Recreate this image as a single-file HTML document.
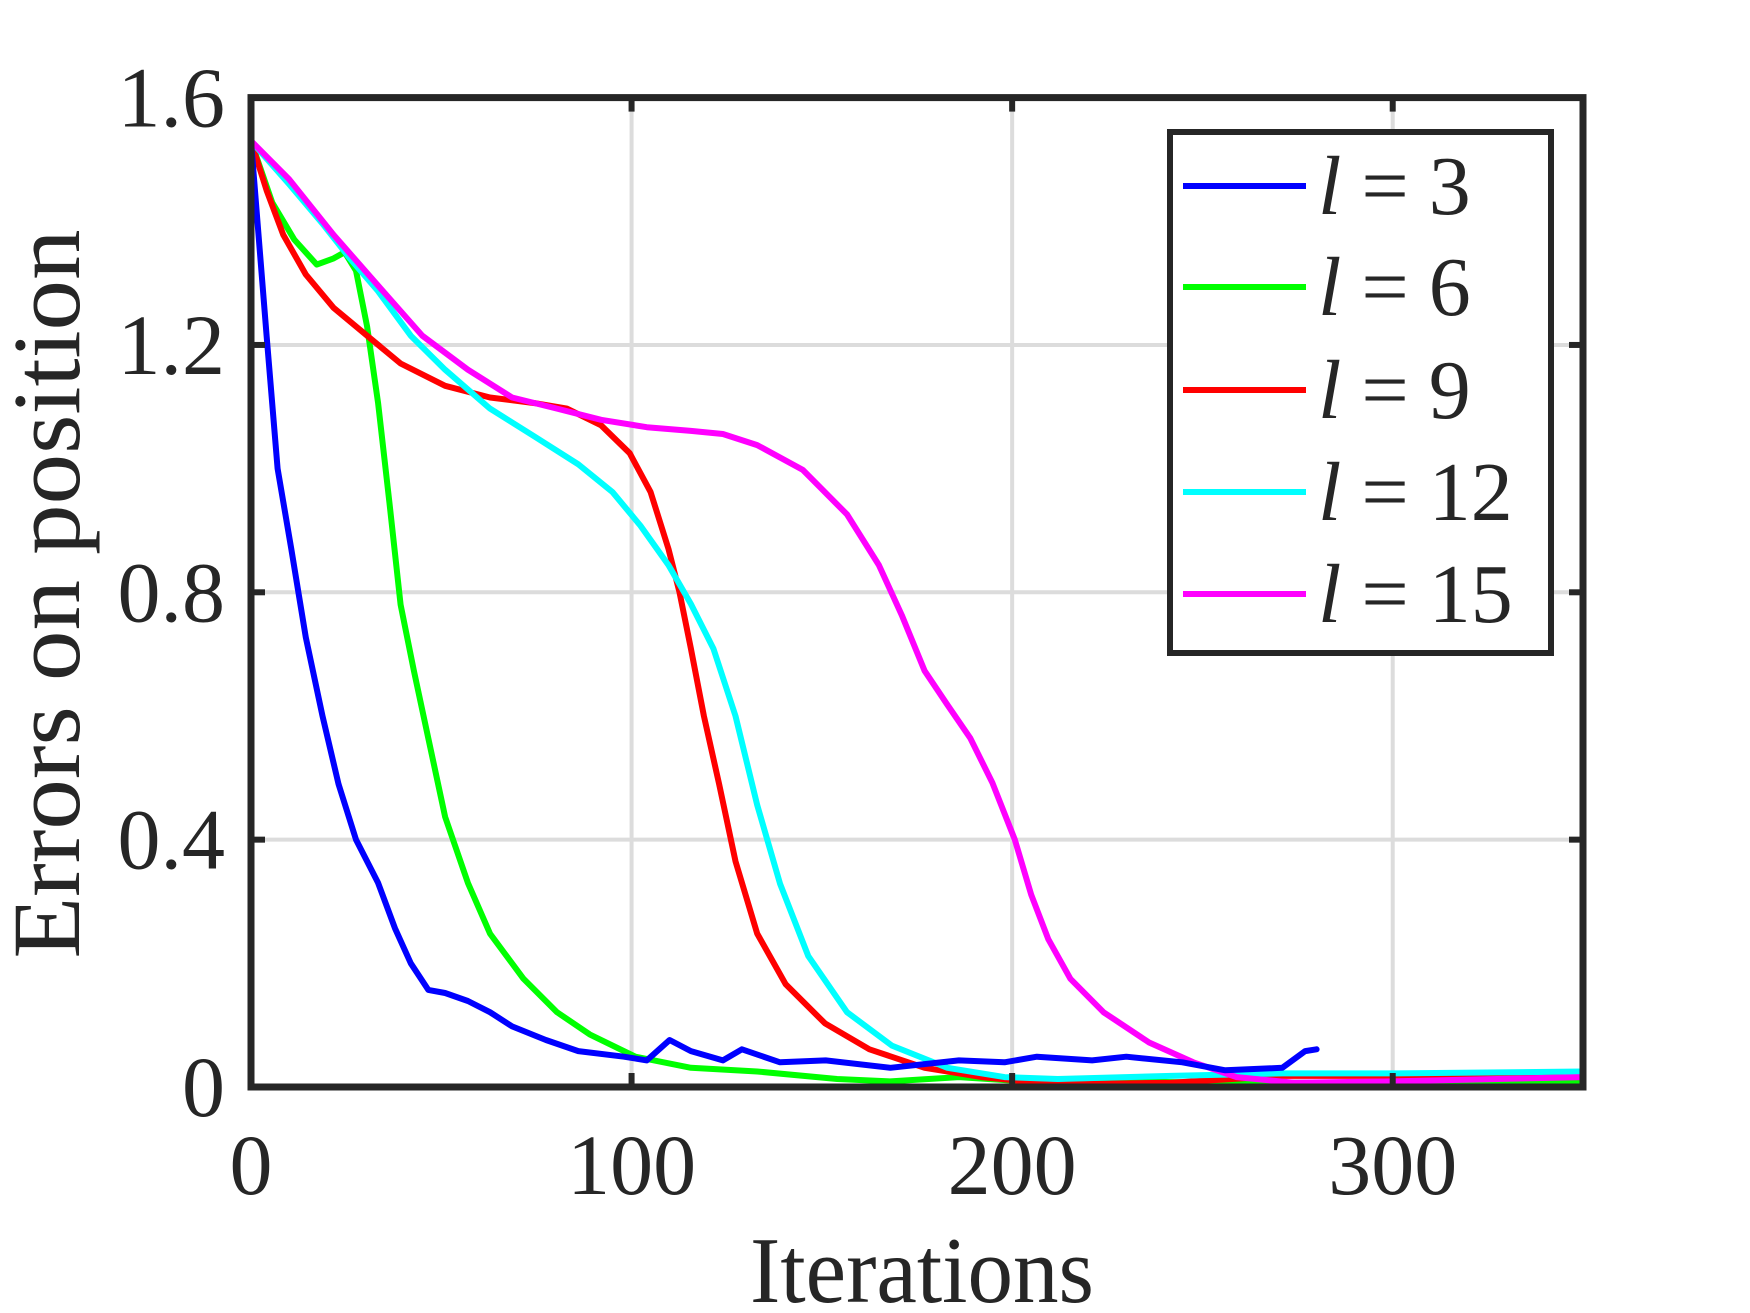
<!DOCTYPE html>
<html><head><meta charset="utf-8"><style>
html,body{margin:0;padding:0;background:#fff;}
svg{display:block;}
text{font-family:"Liberation Serif",serif;fill:#262626;}
</style></head><body>
<svg id="chart" width="1750" height="1313" viewBox="0 0 1750 1313" xmlns="http://www.w3.org/2000/svg"></svg>
<script>
const xTicks=[0,100,200,300];
const yTicks=[0,0.4,0.8,1.2,1.6];
const yTickLabels=["0","0.4","0.8","1.2","1.6"];
const seriesNames=["l = 3","l = 6","l = 9","l = 12","l = 15"];
const s3x=[0,4.1,7,10.6,14.4,18.8,23,27.6,33.4,37.8,42,46.6,51,57,62.8,68.6,77.5,86,98,104,110,115.6,124,129,139,151,168,186,198,206.5,221,230,244.7,256,271,277,280];
const s3y=[1.53,1.215,1.0,0.87,0.727,0.6,0.49,0.40,0.33,0.257,0.20,0.157,0.152,0.139,0.121,0.098,0.076,0.058,0.049,0.043,0.076,0.058,0.043,0.061,0.040,0.043,0.031,0.043,0.040,0.049,0.043,0.049,0.040,0.027,0.031,0.058,0.061];
const s6x=[0,5.6,11.4,17.3,21.7,24.6,27.6,30.5,33.4,36.4,39.3,42.8,46.6,51,57,62.8,71.6,80.4,89,101,115.6,133,154,168,186,203.6,227,256,271,350];
const s6y=[1.53,1.43,1.37,1.33,1.34,1.35,1.32,1.23,1.106,0.944,0.78,0.673,0.564,0.437,0.33,0.248,0.175,0.121,0.085,0.049,0.031,0.025,0.013,0.009,0.016,0.009,0.009,0.007,0.007,0.008];
const s9x=[0,4.1,8.5,14.4,21.7,30.5,39.3,51,62.8,74.5,83,92,99.5,105,109.7,112.6,115.6,119,123,127.3,133,140.5,150.8,162.5,177,192,212,241.7,271,300,350];
const s9y=[1.53,1.45,1.378,1.314,1.26,1.215,1.17,1.134,1.115,1.106,1.097,1.07,1.025,0.962,0.87,0.80,0.709,0.60,0.49,0.365,0.248,0.166,0.103,0.061,0.031,0.016,0.004,0.007,0.018,0.018,0.016];
const s12x=[0,10,18.8,26,33.4,42,51,62.8,74.5,86,95,102.3,109.7,115.6,121.5,127.3,133,139,146.4,156.6,168.4,183,198,212,241.7,271,300,350];
const s12y=[1.53,1.46,1.396,1.34,1.287,1.215,1.16,1.097,1.052,1.007,0.962,0.908,0.844,0.781,0.709,0.60,0.456,0.329,0.212,0.121,0.067,0.031,0.016,0.013,0.018,0.022,0.022,0.025];
const s15x=[0,10,21.7,33.4,45,57,68.6,80.4,92,104,115.6,124,133,145,156.6,165,171,177,183,189,194.8,200.7,205,209.5,215.3,224,236,247.6,259,274,300,350];
const s15y=[1.53,1.468,1.378,1.296,1.215,1.16,1.115,1.097,1.079,1.067,1.061,1.056,1.038,0.998,0.926,0.844,0.763,0.673,0.618,0.564,0.492,0.40,0.311,0.239,0.175,0.121,0.072,0.040,0.016,0.007,0.009,0.016];
const colors=["#0000ff","#00ff00","#ff0000","#00ffff","#ff00ff"];

const L=251,R=1583,T=97.6,B=1087;
const xMax=350,yMax=1.6;
function xs(v){return L+(R-L)*v/xMax;}
function ys(v){return B-(B-T)*v/yMax;}
const NS="http://www.w3.org/2000/svg";
const svg=document.getElementById('chart');
function mk(tag,attrs,parent){const e=document.createElementNS(NS,tag);for(const k in attrs)e.setAttribute(k,attrs[k]);(parent||svg).appendChild(e);return e;}

xTicks.forEach(t=>{if(t===0)return;const g=mk('line',{x1:xs(t),x2:xs(t),y1:T,y2:B,stroke:'#dcdcdc','stroke-width':4});

});
yTicks.forEach(t=>{if(t===0||t===1.6)return;const g=mk('line',{x1:L,x2:R,y1:ys(t),y2:ys(t),stroke:'#dcdcdc','stroke-width':4});

});

const sets=[[s6x,s6y,1],[s9x,s9y,2],[s12x,s12y,3],[s15x,s15y,4],[s3x,s3y,0]];
sets.forEach(([X,Y,i])=>{
  const pts=X.map((x,j)=>xs(x).toFixed(1)+','+ys(Y[j]).toFixed(1)).join(' ');
  const p=mk('polyline',{points:pts,fill:'none',stroke:colors[i],'stroke-width':6,'stroke-linejoin':'round','stroke-linecap':'round'});
  
  
});

xTicks.forEach(t=>{
  const a=mk('line',{x1:xs(t),x2:xs(t),y1:B,y2:B-14,stroke:'#262626','stroke-width':6});
  
  
  const b=mk('line',{x1:xs(t),x2:xs(t),y1:T,y2:T+14,stroke:'#262626','stroke-width':6});
  
  
  const tx=mk('text',{x:xs(t),y:1194,'text-anchor':'middle','font-size':86});
  tx.textContent=String(t);
  
  
});
yTicks.forEach((t,i)=>{
  const a=mk('line',{x1:L,x2:L+14,y1:ys(t),y2:ys(t),stroke:'#262626','stroke-width':6});
  
  
  const b=mk('line',{x1:R,x2:R-14,y1:ys(t),y2:ys(t),stroke:'#262626','stroke-width':6});
  
  
  const tx=mk('text',{x:225,y:ys(t)+29,'text-anchor':'end','font-size':86});
  tx.textContent=yTickLabels[i];
  
  
});

const box=mk('rect',{x:L,y:T,width:R-L,height:B-T,fill:'none',stroke:'#262626','stroke-width':7});



const xt=mk('text',{x:922,y:1302,'text-anchor':'middle','font-size':94,textLength:344,lengthAdjust:'spacingAndGlyphs'});
xt.textContent='Iterations';


const yt=mk('text',{x:0,y:0,'text-anchor':'middle','font-size':96,textLength:729,lengthAdjust:'spacingAndGlyphs',transform:'translate(79,594) rotate(-90)'});
yt.textContent='Errors on position';



const lg=mk('g',{});


const lb=mk('rect',{x:1170,y:132,width:381,height:521,fill:'#fff',stroke:'#262626','stroke-width':6},lg);


const legY=[186,287,390,492,594];
const legNums=["3","6","9","12","15"];
legNums.forEach((n,i)=>{
  const ln=mk('line',{x1:1183,x2:1306,y1:legY[i],y2:legY[i],stroke:colors[i],'stroke-width':6},lg);
  
  
  const tx=mk('text',{x:1318,y:legY[i]+28,'font-size':84},lg);
  
  
  const it=document.createElementNS(NS,'tspan');it.setAttribute('font-style','italic');it.textContent='l';tx.appendChild(it);
  const eq=document.createElementNS(NS,'tspan');eq.setAttribute('dx','20');eq.textContent='=';tx.appendChild(eq);
  const num=document.createElementNS(NS,'tspan');num.setAttribute('dx','20');num.textContent=n;tx.appendChild(num);
});
</script>
</body></html>
